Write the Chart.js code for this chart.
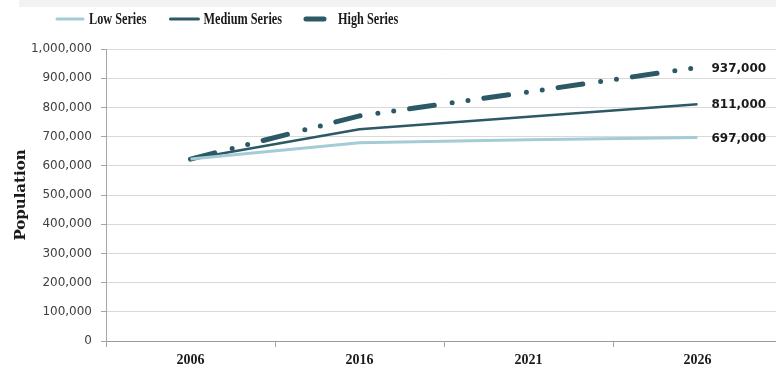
<!DOCTYPE html>
<html>
<head>
<meta charset="utf-8">
<title>Population projections</title>
<script src="https://cdn.jsdelivr.net/npm/chart.js@4"></script>
<style>
  html, body { margin: 0; padding: 0; background: #ffffff; overflow: hidden; }
  #wrap { width: 790px; height: 371px; }
</style>
</head>
<body>
<div id="wrap"><canvas id="chart" width="790" height="371"></canvas></div>
<script>
// Projection years and population per scenario
const years = ['2006', '2016', '2021', '2026'];
const lowSeries = [623000, 679000, 689000, 697000];
const mediumSeries = [623000, 725000, 768000, 811000];
const highSeries = [623000, 771000, 853000, 937000];
const seriesNames = ['Low Series', 'Medium Series', 'High Series'];
const yMin = 0;
const yMax = 1000000;
const yStep = 100000;

const fmt = v => Number(v).toLocaleString('en-US');

// Thin grey band across the top of the figure
const topBand = {
  id: 'topBand',
  beforeDraw(chart) {
    const ctx = chart.ctx;
    ctx.save();
    ctx.fillStyle = '#f2f2f2';
    ctx.fillRect(19, 0, chart.width - 19, 7);
    ctx.restore();
  }
};

// Legend row: line sample followed by a condensed bold serif name
const lineLegend = {
  id: 'lineLegend',
  afterDraw(chart) {
    const ctx = chart.ctx;
    const y = 19;
    let x = 57;
    ctx.save();
    chart.data.datasets.forEach((ds) => {
      const sampleLen = ds.legendSample;
      ctx.beginPath();
      ctx.strokeStyle = ds.borderColor;
      ctx.lineWidth = ds.legendWidth;
      ctx.lineCap = 'round';
      ctx.setLineDash([]);
      ctx.moveTo(x, y);
      ctx.lineTo(x + sampleLen, y);
      ctx.stroke();
      x += sampleLen + ds.legendGap;
      ctx.font = 'bold 17px "Liberation Serif"';
      ctx.fillStyle = '#1a1a1a';
      ctx.textBaseline = 'middle';
      ctx.textAlign = 'left';
      const sx = 0.72;
      const w = ctx.measureText(ds.label).width * sx;
      ctx.save();
      ctx.translate(x, y + 1);
      ctx.scale(sx, 1);
      ctx.fillText(ds.label, 0, 0);
      ctx.restore();
      x += w + 24;
    });
    ctx.restore();
  }
};

// Final-year value written to the right of each line
const endLabels = {
  id: 'endLabels',
  afterDatasetsDraw(chart) {
    const ctx = chart.ctx;
    ctx.save();
    ctx.font = 'bold 12px "DejaVu Sans"';
    ctx.fillStyle = '#1a1a1a';
    ctx.textBaseline = 'middle';
    ctx.textAlign = 'left';
    chart.data.datasets.forEach((ds, i) => {
      const meta = chart.getDatasetMeta(i);
      const last = meta.data[meta.data.length - 1];
      const value = ds.data[ds.data.length - 1];
      ctx.fillText(fmt(value), last.x + 14, last.y + 1);
    });
    ctx.restore();
  }
};

new Chart(document.getElementById('chart'), {
  type: 'line',
  data: {
    labels: years,
    datasets: [
      {
        label: seriesNames[0],
        data: lowSeries,
        borderColor: '#a3ccd7',
        borderWidth: 3,
        legendWidth: 3,
        legendSample: 26,
        legendGap: 6
      },
      {
        label: seriesNames[1],
        data: mediumSeries,
        borderColor: '#2d5865',
        borderWidth: 2.5,
        legendWidth: 3,
        legendSample: 28,
        legendGap: 5
      },
      {
        label: seriesNames[2],
        data: highSeries,
        borderColor: '#2b5966',
        borderWidth: 5,
        borderCapStyle: 'round',
        borderDash: [25, 18, 0, 16, 0, 16],
        legendWidth: 5,
        legendSample: 18,
        legendGap: 14
      }
    ]
  },
  options: {
    responsive: false,
    animation: false,
    devicePixelRatio: 1,
    layout: { padding: { top: 49, right: 8, left: 0, bottom: 0 } },
    elements: {
      point: { radius: 0, hoverRadius: 0 },
      line: { tension: 0, fill: false }
    },
    plugins: {
      legend: { display: false },
      tooltip: { enabled: false }
    },
    scales: {
      x: {
        type: 'category',
        offset: true,
        grid: {
          offset: true,
          drawOnChartArea: false,
          drawTicks: true,
          tickLength: 6,
          color: '#a6a6a6'
        },
        border: { display: true, color: '#9a9a9a' },
        ticks: {
          color: '#1a1a1a',
          font: { family: '"Liberation Serif"', size: 14, weight: 'bold' },
          padding: 5,
          maxRotation: 0
        },
        afterFit(scale) { scale.height = 30; }
      },
      y: {
        min: yMin,
        max: yMax,
        ticks: {
          stepSize: yStep,
          color: '#404040',
          font: { family: '"DejaVu Sans"', size: 12 },
          padding: 9,
          callback: v => fmt(v)
        },
        grid: {
          color: '#d9d9d9',
          tickColor: '#a6a6a6',
          tickLength: 5
        },
        border: { display: true, color: '#a6a6a6' },
        title: {
          display: true,
          text: 'Population',
          color: '#1a1a1a',
          font: { family: '"DejaVu Serif"', size: 15, weight: 'bold' },
          padding: { top: 12, bottom: 0 }
        },
        afterFit(scale) { scale.width = 106; }
      }
    }
  },
  plugins: [topBand, lineLegend, endLabels]
});
</script>
</body>
</html>
